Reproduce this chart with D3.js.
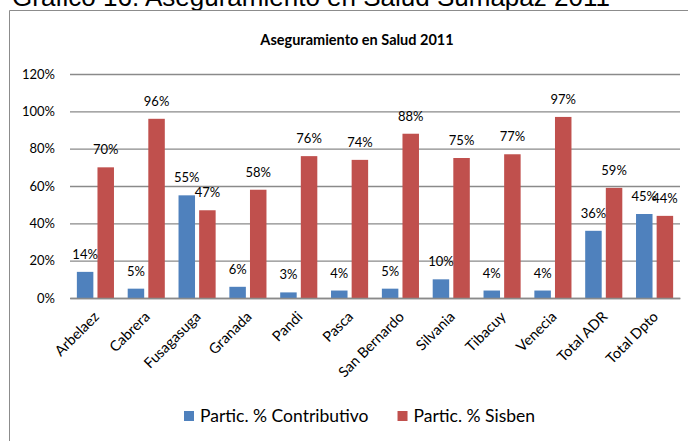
<!DOCTYPE html>
<html>
<head>
<meta charset="utf-8">
<script src="https://cdn.jsdelivr.net/npm/d3@7"></script>
<style>
    body { margin: 0; background: #fff; }
    svg { display: block; }
</style>
</head>
<body>
<div class="chart"></div>
<script>
// data
let categories = ['Arbelaez', 'Cabrera', 'Fusagasuga', 'Granada', 'Pandi', 'Pasca', 'San Bernardo',
    'Silvania', 'Tibacuy', 'Venecia', 'Total ADR', 'Total Dpto'];
let contributivo = [14, 5, 55, 6, 3, 4, 5, 10, 4, 4, 36, 45];
let sisben = [70, 96, 47, 58, 76, 74, 88, 75, 77, 97, 59, 44];
let seriesNames = ['Partic. % Contributivo', 'Partic. % Sisben'];
let yTicks = [0, 20, 40, 60, 80, 100, 120];

let colors = ['#4f81bd', '#c0504d'];
let font = 'Lato, "Open Sans", sans-serif';

let width = 688, height = 441;
let margin = {top: 74, right: 8, bottom: 143, left: 70};

let svg = d3.select('.chart').append('svg')
    .attr('width', width)
    .attr('height', height);

// caption above the frame (cut off at the top in the source)
svg.append('text')
    .attr('x', 12)
    .attr('y', 6)
    .attr('font-family', 'Arial, "Liberation Sans", sans-serif')
    .attr('font-size', 26)
    .attr('fill', '#000')
    .text('Gráfico 16. Aseguramiento en Salud Sumapaz 2011');

// chart frame
svg.append('path')
    .attr('d', 'M9.5,' + height + 'V10.5H' + width)
    .attr('fill', 'none')
    .attr('stroke', '#8c8c8c')
    .attr('stroke-width', 1);

svg.append('text')
    .attr('x', 357)
    .attr('y', 45)
    .attr('text-anchor', 'middle')
    .attr('font-family', font)
    .attr('font-weight', 'bold')
    .attr('font-size', 14.5)
    .text('Aseguramiento en Salud 2011');

let x0 = d3.scaleBand()
    .domain(categories)
    .range([margin.left, width - margin.right])
    .paddingInner(0.27)
    .paddingOuter(0.135);

let x1 = d3.scaleBand()
    .domain([0, 1])
    .range([0, x0.bandwidth()])
    .paddingInner(0.2);

let y = d3.scaleLinear()
    .domain([0, 120])
    .range([height - margin.bottom, margin.top]);

// y axis + grid
let yAxisGroup = svg.append('g')
    .attr('transform', 'translate(' + margin.left + ',0)')
    .call(d3.axisLeft(y).tickValues(yTicks).tickFormat(d => d + '%').tickSize(0).tickPadding(15));
yAxisGroup.select('.domain').remove();
yAxisGroup.selectAll('text')
    .attr('font-family', font)
    .attr('font-size', 13)
    .attr('fill', '#000');
yAxisGroup.selectAll('.tick line')
    .attr('x2', width - margin.right - margin.left)
    .attr('stroke', '#8a8a8a')
    .attr('stroke-width', 1.3);

// bars
let rows = categories.map((c, i) => ({cat: c, values: [contributivo[i], sisben[i]]}));

let groups = svg.append('g').selectAll('g')
    .data(rows)
    .join('g')
    .attr('transform', d => 'translate(' + x0(d.cat) + ',0)');

groups.selectAll('rect')
    .data(d => d.values.map((v, k) => ({k: k, v: v})))
    .join('rect')
    .attr('x', d => x1(d.k))
    .attr('y', d => y(d.v))
    .attr('width', x1.bandwidth())
    .attr('height', d => y(0) - y(d.v))
    .attr('fill', d => colors[d.k]);

groups.selectAll('text')
    .data(d => d.values.map((v, k) => ({k: k, v: v})))
    .join('text')
    .attr('x', d => x1(d.k) + x1.bandwidth() / 2)
    .attr('y', d => y(d.v) - 13)
    .attr('text-anchor', 'middle')
    .attr('font-family', font)
    .attr('font-size', 13)
    .attr('fill', '#000')
    .text(d => Math.round(d.v) + '%');

// x axis
let xAxisGroup = svg.append('g')
    .attr('transform', 'translate(0,' + y(0) + ')')
    .call(d3.axisBottom(x0).tickSize(0));
xAxisGroup.select('.domain')
    .attr('stroke', '#8a8a8a')
    .attr('stroke-width', 1.3);
xAxisGroup.selectAll('text')
    .attr('font-family', font)
    .attr('font-size', 14.5)
    .attr('fill', '#000')
    .attr('text-anchor', 'end')
    .attr('dy', '0.35em')
    .attr('transform', 'translate(1,16) rotate(-45)')
    .attr('y', 0);

// legend
let legend = svg.append('g').attr('transform', 'translate(184,411)');
let lx = 0;
seriesNames.forEach((name, i) => {
    let item = legend.append('g').attr('transform', 'translate(' + lx + ',0)');
    item.append('rect')
        .attr('width', 10)
        .attr('height', 10)
        .attr('fill', colors[i]);
    let t = item.append('text')
        .attr('x', 16)
        .attr('y', 10.5)
        .attr('font-family', font)
        .attr('font-size', 17.5)
        .attr('fill', '#000')
        .text(name);
    lx += 16 + t.node().getComputedTextLength() + 29;
});
</script>
</body>
</html>
